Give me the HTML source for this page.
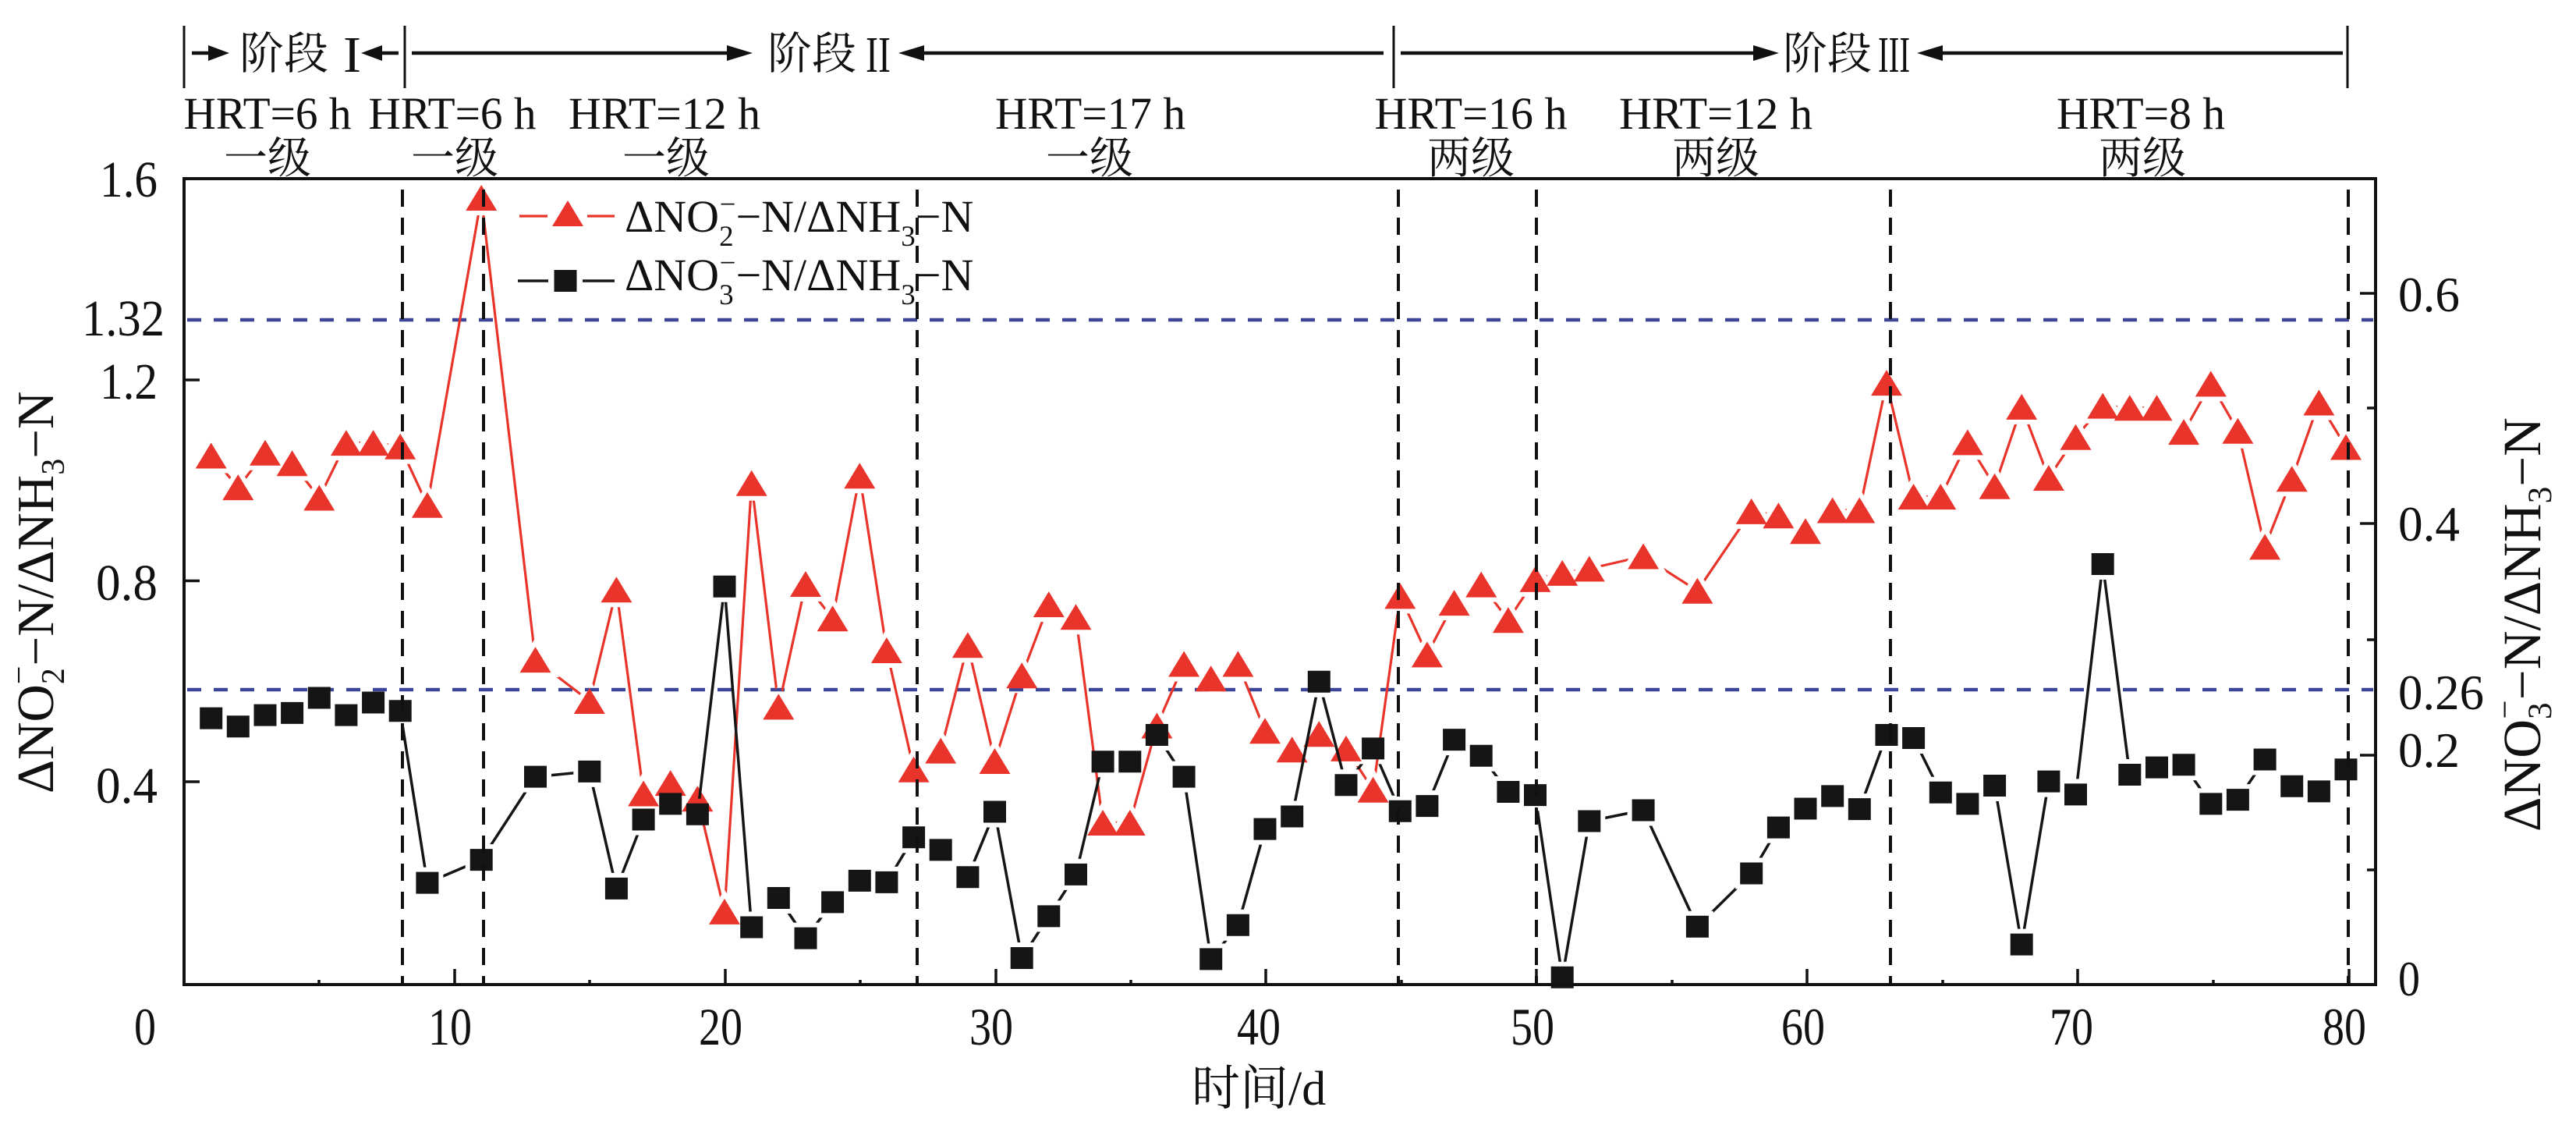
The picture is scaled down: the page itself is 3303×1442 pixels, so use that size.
<!DOCTYPE html>
<html><head><meta charset="utf-8"><style>
html,body{margin:0;padding:0;background:#fff;}
svg{display:block;}
</style></head><body>
<svg xmlns="http://www.w3.org/2000/svg" width="3303" height="1442" viewBox="0 0 3303 1442" font-family="'Liberation Serif','Noto Serif CJK SC',serif">
<defs>
<path id="triR" d="M270.7,567.5l20 33h-40z M305.3,608.1l20 33h-40z M340,563.8l20 33h-40z M374.6,577.2l20 33h-40z M409.3,621.5l20 33h-40z M443.9,551.1l20 33h-40z M478.6,551.1l20 33h-40z M513.2,555.8l20 33h-40z M547.9,630.8l20 33h-40z M617.2,237l20 33h-40z M686.5,829.1l20 33h-40z M755.8,882l20 33h-40z M790.4,739.3l20 33h-40z M825.1,1000.5l20 33h-40z M859.7,987.1l20 33h-40z M894.4,1007.3l20 33h-40z M929,1151.9l20 33h-40z M963.7,602.7l20 33h-40z M998.3,889.4l20 33h-40z M1033,732l20 33h-40z M1067.6,776.2l20 33h-40z M1102.3,593.3l20 33h-40z M1136.9,817l20 33h-40z M1171.6,969.7l20 33h-40z M1206.2,945.6l20 33h-40z M1240.9,810.3l20 33h-40z M1275.5,959l20 33h-40z M1310.2,849.2l20 33h-40z M1344.8,758.1l20 33h-40z M1379.5,774.2l20 33h-40z M1414.1,1038l20 33h-40z M1448.8,1038l20 33h-40z M1483.4,913.5l20 33h-40z M1518.1,834.5l20 33h-40z M1552.7,853.2l20 33h-40z M1587.4,834.5l20 33h-40z M1622,920.2l20 33h-40z M1656.7,944.3l20 33h-40z M1691.3,924.2l20 33h-40z M1726,942.9l20 33h-40z M1760.6,995.8l20 33h-40z M1795.3,747.4l20 33h-40z M1829.9,822.4l20 33h-40z M1864.6,756.1l20 33h-40z M1899.2,732.6l20 33h-40z M1933.9,778.2l20 33h-40z M1968.5,725.9l20 33h-40z M2003.2,717.9l20 33h-40z M2037.8,712.5l20 33h-40z M2107.1,696.5l20 33h-40z M2176.4,740.7l20 33h-40z M2245.7,638.9l20 33h-40z M2280.4,644.2l20 33h-40z M2315,664.3l20 33h-40z M2349.7,637.5l20 33h-40z M2384.3,637.5l20 33h-40z M2419,474.1l20 33h-40z M2453.6,620.1l20 33h-40z M2488.3,620.1l20 33h-40z M2522.9,550.4l20 33h-40z M2557.6,606.7l20 33h-40z M2592.2,504.9l20 33h-40z M2626.9,596l20 33h-40z M2661.5,543.8l20 33h-40z M2696.2,503.6l20 33h-40z M2730.8,506.2l20 33h-40z M2765.5,506.2l20 33h-40z M2800.1,537.1l20 33h-40z M2834.8,475.4l20 33h-40z M2869.4,535.7l20 33h-40z M2904.1,684.4l20 33h-40z M2938.7,597.3l20 33h-40z M2973.4,499.5l20 33h-40z M3008,556.5l20 33h-40z"/>
<path id="sqB" d="M256.2,906.6h29v28h-29z M290.8,917.3h29v28h-29z M325.5,902.6h29v28h-29z M360.1,899.9h29v28h-29z M394.8,880.5h29v28h-29z M429.4,902.6h29v28h-29z M464.1,886.5h29v28h-29z M498.7,897.2h29v28h-29z M533.4,1117.6h29v28h-29z M602.7,1088.1h29v28h-29z M672,981.6h29v28h-29z M741.3,974.9h29v28h-29z M775.9,1124.9h29v28h-29z M810.6,1036.5h29v28h-29z M845.2,1016.4h29v28h-29z M879.9,1029.8h29v28h-29z M914.5,737.8h29v28h-29z M949.2,1174.5h29v28h-29z M983.8,1137h29v28h-29z M1018.5,1188.6h29v28h-29z M1053.1,1142.4h29v28h-29z M1087.8,1114.9h29v28h-29z M1122.4,1116.9h29v28h-29z M1157.1,1059.3h29v28h-29z M1191.7,1075.4h29v28h-29z M1226.4,1110.2h29v28h-29z M1261,1026.5h29v28h-29z M1295.7,1214h29v28h-29z M1330.3,1160.4h29v28h-29z M1365,1106.9h29v28h-29z M1399.6,962.2h29v28h-29z M1434.3,962.2h29v28h-29z M1468.9,928h29v28h-29z M1503.6,981.6h29v28h-29z M1538.2,1215.4h29v28h-29z M1572.9,1171.8h29v28h-29z M1607.5,1048.6h29v28h-29z M1642.2,1032.5h29v28h-29z M1676.8,859.7h29v28h-29z M1711.5,992.3h29v28h-29z M1746.1,945.4h29v28h-29z M1780.8,1025.8h29v28h-29z M1815.4,1019.1h29v28h-29z M1850.1,934.1h29v28h-29z M1884.7,954.8h29v28h-29z M1919.4,1001h29v28h-29z M1954,1005.1h29v28h-29z M1988.7,1238.8h29v28h-29z M2023.3,1038.5h29v28h-29z M2092.6,1024.5h29v28h-29z M2161.9,1173.8h29v28h-29z M2231.2,1105.5h29v28h-29z M2265.9,1046.6h29v28h-29z M2300.5,1022.5h29v28h-29z M2335.2,1006.4h29v28h-29z M2369.8,1023.1h29v28h-29z M2404.5,928h29v28h-29z M2439.1,932h29v28h-29z M2473.8,1001.7h29v28h-29z M2508.4,1016.4h29v28h-29z M2543.1,993h29v28h-29z M2577.7,1196.6h29v28h-29z M2612.4,987.6h29v28h-29z M2647,1004.4h29v28h-29z M2681.7,709h29v28h-29z M2716.3,979h29v28h-29z M2751,969.6h29v28h-29z M2785.6,966.2h29v28h-29z M2820.3,1016.4h29v28h-29z M2854.9,1011.1h29v28h-29z M2889.6,959.5h29v28h-29z M2924.2,993.7h29v28h-29z M2958.9,1000.4h29v28h-29z M2993.5,972.2h29v28h-29z"/>
<mask id="mR" maskUnits="userSpaceOnUse" x="0" y="0" width="3303" height="1442">
<rect x="0" y="0" width="3303" height="1442" fill="#fff"/>
<use href="#triR" fill="#000" stroke="#000" stroke-width="12"/>
</mask>
<mask id="mB" maskUnits="userSpaceOnUse" x="0" y="0" width="3303" height="1442">
<rect x="0" y="0" width="3303" height="1442" fill="#fff"/>
<use href="#sqB" fill="#000" stroke="#000" stroke-width="12"/>
</mask>
</defs>

<!-- blue reference lines -->
<g stroke="#3d4696" stroke-width="4.5" stroke-dasharray="18 16" fill="none">
<line x1="240" y1="410" x2="3043" y2="410"/>
<line x1="240" y1="884" x2="3043" y2="884"/>
</g>

<!-- red series -->
<polyline mask="url(#mR)" fill="none" stroke="#e8342a" stroke-width="3.2" stroke-linejoin="round" points="270.7,584 305.3,624.6 340,580.3 374.6,593.7 409.3,638 443.9,567.6 478.6,567.6 513.2,572.3 547.9,647.3 617.2,253.5 686.5,845.6 755.8,898.5 790.4,755.8 825.1,1017 859.7,1003.6 894.4,1023.8 929,1168.4 963.7,619.2 998.3,905.9 1033,748.5 1067.6,792.7 1102.3,609.8 1136.9,833.5 1171.6,986.2 1206.2,962.1 1240.9,826.8 1275.5,975.5 1310.2,865.7 1344.8,774.6 1379.5,790.7 1414.1,1054.5 1448.8,1054.5 1483.4,930 1518.1,851 1552.7,869.7 1587.4,851 1622,936.7 1656.7,960.8 1691.3,940.7 1726,959.4 1760.6,1012.3 1795.3,763.9 1829.9,838.9 1864.6,772.6 1899.2,749.1 1933.9,794.7 1968.5,742.4 2003.2,734.4 2037.8,729 2107.1,713 2176.4,757.2 2245.7,655.4 2280.4,660.7 2315,680.8 2349.7,654 2384.3,654 2419,490.6 2453.6,636.6 2488.3,636.6 2522.9,566.9 2557.6,623.2 2592.2,521.4 2626.9,612.5 2661.5,560.3 2696.2,520.1 2730.8,522.7 2765.5,522.7 2800.1,553.6 2834.8,491.9 2869.4,552.2 2904.1,700.9 2938.7,613.8 2973.4,516 3008,573"/>
<use href="#triR" fill="#e8342a"/>

<!-- black series -->
<polyline mask="url(#mB)" fill="none" stroke="#151515" stroke-width="3.5" stroke-linejoin="round" points="270.7,920.6 305.3,931.3 340,916.6 374.6,913.9 409.3,894.5 443.9,916.6 478.6,900.5 513.2,911.2 547.9,1131.6 617.2,1102.1 686.5,995.6 755.8,988.9 790.4,1138.9 825.1,1050.5 859.7,1030.4 894.4,1043.8 929,751.8 963.7,1188.5 998.3,1151 1033,1202.6 1067.6,1156.4 1102.3,1128.9 1136.9,1130.9 1171.6,1073.3 1206.2,1089.4 1240.9,1124.2 1275.5,1040.5 1310.2,1228 1344.8,1174.4 1379.5,1120.9 1414.1,976.2 1448.8,976.2 1483.4,942 1518.1,995.6 1552.7,1229.4 1587.4,1185.8 1622,1062.6 1656.7,1046.5 1691.3,873.7 1726,1006.3 1760.6,959.4 1795.3,1039.8 1829.9,1033.1 1864.6,948.1 1899.2,968.8 1933.9,1015 1968.5,1019.1 2003.2,1252.8 2037.8,1052.5 2107.1,1038.5 2176.4,1187.8 2245.7,1119.5 2280.4,1060.6 2315,1036.5 2349.7,1020.4 2384.3,1037.1 2419,942 2453.6,946 2488.3,1015.7 2522.9,1030.4 2557.6,1007 2592.2,1210.6 2626.9,1001.6 2661.5,1018.4 2696.2,723 2730.8,993 2765.5,983.6 2800.1,980.2 2834.8,1030.4 2869.4,1025.1 2904.1,973.5 2938.7,1007.7 2973.4,1014.4 3008,986.2"/>
<use href="#sqB" fill="#151515"/>

<!-- vertical dashed stage lines -->
<g stroke="#111" stroke-width="4" stroke-dasharray="22 14" fill="none">
<line x1="516" y1="243" x2="516" y2="1260"/>
<line x1="620" y1="243" x2="620" y2="1260"/>
<line x1="1176" y1="243" x2="1176" y2="1260"/>
<line x1="1793" y1="243" x2="1793" y2="1260"/>
<line x1="1970" y1="243" x2="1970" y2="1260"/>
<line x1="2424" y1="243" x2="2424" y2="1260"/>
<line x1="3011" y1="243" x2="3011" y2="1260"/>
</g>

<!-- axes frame -->
<rect x="236" y="229" width="2810" height="1033" fill="none" stroke="#111" stroke-width="4"/>

<!-- ticks -->
<g stroke="#111" stroke-width="3.5">
<line x1="236" y1="1002" x2="256" y2="1002"/>
<line x1="236" y1="744.5" x2="256" y2="744.5"/>
<line x1="236" y1="487" x2="256" y2="487"/>
<line x1="583" y1="1262" x2="583" y2="1242"/>
<line x1="930" y1="1262" x2="930" y2="1242"/>
<line x1="1277" y1="1262" x2="1277" y2="1242"/>
<line x1="1623" y1="1262" x2="1623" y2="1242"/>
<line x1="1970" y1="1262" x2="1970" y2="1242"/>
<line x1="2317" y1="1262" x2="2317" y2="1242"/>
<line x1="2664" y1="1262" x2="2664" y2="1242"/>
<line x1="3012" y1="1262" x2="3012" y2="1242"/>
<line x1="409" y1="1262" x2="409" y2="1256"/>
<line x1="756" y1="1262" x2="756" y2="1256"/>
<line x1="1103" y1="1262" x2="1103" y2="1256"/>
<line x1="1450" y1="1262" x2="1450" y2="1256"/>
<line x1="1797" y1="1262" x2="1797" y2="1256"/>
<line x1="2144" y1="1262" x2="2144" y2="1256"/>
<line x1="2491" y1="1262" x2="2491" y2="1256"/>
<line x1="2838" y1="1262" x2="2838" y2="1256"/>
<line x1="3046" y1="968" x2="3026" y2="968"/>
<line x1="3046" y1="671" x2="3026" y2="671"/>
<line x1="3046" y1="376" x2="3026" y2="376"/>
<line x1="3046" y1="1115" x2="3035" y2="1115"/>
<line x1="3046" y1="820" x2="3035" y2="820"/>
<line x1="3046" y1="523" x2="3035" y2="523"/>
</g>

<!-- tick labels -->
<g font-size="66" fill="#111">
<text x="128" y="252" textLength="74" lengthAdjust="spacingAndGlyphs">1.6</text>
<text x="105" y="430" textLength="106" lengthAdjust="spacingAndGlyphs">1.32</text>
<text x="128" y="511" textLength="74" lengthAdjust="spacingAndGlyphs">1.2</text>
<text x="123" y="769" textLength="79" lengthAdjust="spacingAndGlyphs">0.8</text>
<text x="123" y="1029" textLength="79" lengthAdjust="spacingAndGlyphs">0.4</text>
</g>
<g font-size="68" fill="#111">
<text x="172" y="1339" textLength="28" lengthAdjust="spacingAndGlyphs">0</text>
<text x="549" y="1339" textLength="56" lengthAdjust="spacingAndGlyphs">10</text>
<text x="896" y="1339" textLength="56" lengthAdjust="spacingAndGlyphs">20</text>
<text x="1243" y="1339" textLength="56" lengthAdjust="spacingAndGlyphs">30</text>
<text x="1586" y="1339" textLength="56" lengthAdjust="spacingAndGlyphs">40</text>
<text x="1937" y="1339" textLength="56" lengthAdjust="spacingAndGlyphs">50</text>
<text x="2284" y="1339" textLength="56" lengthAdjust="spacingAndGlyphs">60</text>
<text x="2628" y="1339" textLength="56" lengthAdjust="spacingAndGlyphs">70</text>
<text x="2978" y="1339" textLength="56" lengthAdjust="spacingAndGlyphs">80</text>
</g>
<g font-size="64" fill="#111">
<text x="3075" y="399" textLength="79" lengthAdjust="spacingAndGlyphs">0.6</text>
<text x="3075" y="693" textLength="79" lengthAdjust="spacingAndGlyphs">0.4</text>
<text x="3075" y="909" textLength="110" lengthAdjust="spacingAndGlyphs">0.26</text>
<text x="3075" y="983" textLength="79" lengthAdjust="spacingAndGlyphs">0.2</text>
<text x="3075" y="1276" textLength="28" lengthAdjust="spacingAndGlyphs">0</text>
</g>

<!-- axis titles -->
<text transform="translate(68,1017) rotate(-90)" font-size="67" fill="#111">ΔNO<tspan font-size="42" dy="14">2</tspan><tspan font-size="42" dx="-21" dy="-44">−</tspan><tspan dy="30">−N/ΔNH</tspan><tspan font-size="42" dy="14">3</tspan><tspan dy="-14">−N</tspan></text>
<text transform="translate(3257,1066) rotate(-90)" font-size="69" fill="#111">ΔNO<tspan font-size="43" dy="14">3</tspan><tspan font-size="43" dx="-21" dy="-45">−</tspan><tspan dy="31">−N/ΔNH</tspan><tspan font-size="43" dy="14">3</tspan><tspan dy="-14">−N</tspan></text>
<text x="1528" y="1416" font-size="62" fill="#111" font-family="'Noto Serif CJK SC','Noto Sans CJK SC',serif">时间<tspan font-family="'Liberation Serif',serif">/d</tspan></text>

<!-- legend -->
<g stroke="#e8342a" stroke-width="3.2">
<line x1="666" y1="277" x2="702" y2="277"/>
<line x1="753" y1="277" x2="788" y2="277"/>
</g>
<path d="M728,257l20 33h-40z" fill="#e8342a"/>
<g stroke="#151515" stroke-width="3.5">
<line x1="664" y1="360" x2="703" y2="360"/>
<line x1="747" y1="360" x2="788" y2="360"/>
</g>
<rect x="710.5" y="346" width="29" height="28" fill="#151515"/>
<text x="801" y="297" font-size="58" fill="#111">ΔNO<tspan font-size="37" dy="18">2</tspan><tspan font-size="37" dx="-18" dy="-41">−</tspan><tspan dy="23">−N/ΔNH</tspan><tspan font-size="37" dy="18">3</tspan><tspan dy="-18">−N</tspan></text>
<text x="801" y="372" font-size="58" fill="#111">ΔNO<tspan font-size="37" dy="18">3</tspan><tspan font-size="37" dx="-18" dy="-41">−</tspan><tspan dy="23">−N/ΔNH</tspan><tspan font-size="37" dy="18">3</tspan><tspan dy="-18">−N</tspan></text>

<!-- header: stage bars and arrows -->
<g stroke="#111" stroke-width="3">
<line x1="236" y1="33" x2="236" y2="113"/>
<line x1="519" y1="33" x2="519" y2="113"/>
<line x1="1787" y1="33" x2="1787" y2="113"/>
<line x1="3010" y1="33" x2="3010" y2="113"/>
</g>
<g stroke="#111" stroke-width="4.5">
<line x1="246" y1="68" x2="270" y2="68"/>
<line x1="488" y1="68" x2="511" y2="68"/>
<line x1="528" y1="68" x2="935" y2="68"/>
<line x1="1182" y1="68" x2="1774" y2="68"/>
<line x1="1796" y1="68" x2="2251" y2="68"/>
<line x1="2487" y1="68" x2="3004" y2="68"/>
</g>
<g fill="#111">
<path d="M294,68 l-27,-10 v20z"/>
<path d="M463,68 l27,-10 v20z"/>
<path d="M965,68 l-33,-10 v20z"/>
<path d="M1152,68 l33,-10 v20z"/>
<path d="M2281,68 l-33,-10 v20z"/>
<path d="M2458,68 l33,-10 v20z"/>
</g>
<g font-family="'Noto Serif CJK SC','Noto Sans CJK SC',serif" font-size="57" fill="#111">
<text x="307" y="88" textLength="114" lengthAdjust="spacingAndGlyphs">阶段</text>
<text x="984" y="88" textLength="114" lengthAdjust="spacingAndGlyphs">阶段</text>
<text x="2286" y="88" textLength="114" lengthAdjust="spacingAndGlyphs">阶段</text>
</g>
<g font-family="'Liberation Serif',serif" font-size="66" fill="#111">
<text x="440" y="92" textLength="23" lengthAdjust="spacingAndGlyphs">I</text>
<text x="1110" y="92" textLength="32" lengthAdjust="spacingAndGlyphs">II</text>
<text x="2408" y="92" textLength="41" lengthAdjust="spacingAndGlyphs">III</text>
</g>

<!-- HRT labels -->
<g font-size="58" fill="#111" text-anchor="middle">
<text x="343" y="165" textLength="215" lengthAdjust="spacingAndGlyphs">HRT=6 h</text>
<text x="580" y="165" textLength="215" lengthAdjust="spacingAndGlyphs">HRT=6 h</text>
<text x="852" y="165" textLength="246" lengthAdjust="spacingAndGlyphs">HRT=12 h</text>
<text x="1398" y="165" textLength="244" lengthAdjust="spacingAndGlyphs">HRT=17 h</text>
<text x="1886" y="165" textLength="247" lengthAdjust="spacingAndGlyphs">HRT=16 h</text>
<text x="2200" y="165" textLength="248" lengthAdjust="spacingAndGlyphs">HRT=12 h</text>
<text x="2745" y="165" textLength="216" lengthAdjust="spacingAndGlyphs">HRT=8 h</text>
</g>
<g font-family="'Noto Serif CJK SC','Noto Sans CJK SC',serif" font-size="56" fill="#111" text-anchor="middle">
<text x="343" y="222">一级</text>
<text x="583" y="222">一级</text>
<text x="854" y="222">一级</text>
<text x="1397" y="222">一级</text>
<text x="1886" y="222">两级</text>
<text x="2200" y="222">两级</text>
<text x="2747" y="222">两级</text>
</g>
</svg>
</body></html>
